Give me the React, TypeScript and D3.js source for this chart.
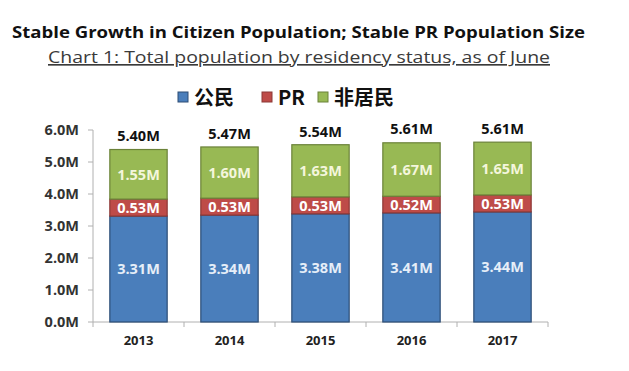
import * as d3 from 'd3';

const years = ['2013', '2014', '2015', '2016', '2017'];
const citizens = [3.31, 3.34, 3.38, 3.41, 3.44];
const prs = [0.53, 0.53, 0.53, 0.52, 0.53];
const nonResidents = [1.55, 1.6, 1.63, 1.67, 1.65];
const totals = [5.4, 5.47, 5.54, 5.61, 5.61];
const yTicks = [0, 1, 2, 3, 4, 5, 6];
const seriesNames = ['公民', 'PR', '非居民'];

const colors = ['#4a7ebb', '#be4b48', '#98b954'];
const strokes = ['#2c4d75', '#8c3836', '#6b8239'];
const labelColors = ['#e6eef8', '#ffffff', '#f4f6dc'];

const W = 629;
const H = 371;
const font = '"Open Sans", "Noto Sans", sans-serif';

const App = () => {
  const x = d3.scaleBand().domain(years).range([93, 548]).paddingInner(0.37).paddingOuter(0.185);
  const y = d3.scaleLinear().domain([0, 6]).range([322, 130]);

  const rows = years.map((yr, i) => ({ year: yr, c: citizens[i], p: prs[i], n: nonResidents[i] }));
  const stack = d3.stack<any>().keys(['c', 'p', 'n'])(rows);

  const legendX = [178, 262, 318];

  return (
    <svg width={W} height={H} style={{ position: 'absolute', left: 0, top: 0, background: '#fff' }} fontFamily={font}>
      <rect width={W} height={H} fill="#fff" />
      <text x={12} y={38} fontSize={16.5} fontWeight="bold" fill="#111" textLength={573} lengthAdjust="spacingAndGlyphs">
        Stable Growth in Citizen Population; Stable PR Population Size
      </text>
      <text x={48} y={63} fontSize={16.5} fill="#3a3a3a" textDecoration="underline" textLength={502} lengthAdjust="spacingAndGlyphs">
        Chart 1: Total population by residency status, as of June
      </text>

      {seriesNames.map((s, i) => (
        <g key={s}>
          <rect x={legendX[i]} y={92} width={10} height={10} fill={colors[i]} stroke={strokes[i]} />
          <text x={legendX[i] + 16} y={105} fontSize={20} fontWeight="bold" fill="#111"
            fontFamily={'"Noto Sans CJK SC", "Open Sans", sans-serif'}>{s}</text>
        </g>
      ))}

      {/* y axis */}
      <line x1={93} x2={93} y1={y(6)} y2={y(0)} stroke="#b0b0b0" />
      {yTicks.map(t => (
        <g key={t}>
          <line x1={88} x2={93} y1={y(t)} y2={y(t)} stroke="#b0b0b0" />
          <text x={79} y={y(t)} dy="0.35em" textAnchor="end" fontSize={14.5} fontWeight="bold" fill="#333">
            {t.toFixed(1)}M
          </text>
        </g>
      ))}

      {/* x axis */}
      <line x1={93} x2={548} y1={y(0)} y2={y(0)} stroke="#b0b0b0" />
      {years.map((yr, i) => {
        const x0 = 93 + i * x.step();
        return <line key={yr} x1={x0} x2={x0} y1={y(0)} y2={y(0) + 5} stroke="#b0b0b0" />;
      })}
      <line x1={548} x2={548} y1={y(0)} y2={y(0) + 5} stroke="#b0b0b0" />
      {years.map(yr => (
        <text key={yr} x={(x(yr) as number) + x.bandwidth() / 2} y={345} textAnchor="middle" fontSize={13} fontWeight="bold" fill="#222">
          {yr}
        </text>
      ))}

      {stack.map((layer, si) => (
        <g key={si}>
          {layer.map((d: any) => {
            const bx = x(d.data.year) as number;
            const top = y(d[1]);
            const bottom = y(d[0]);
            return (
              <g key={d.data.year}>
                <rect x={bx} y={top} width={x.bandwidth()} height={bottom - top} fill={colors[si]} stroke={strokes[si]} strokeWidth={1.2} />
                <text x={bx + x.bandwidth() / 2} y={(top + bottom) / 2} dy="0.36em" textAnchor="middle"
                  fontSize={14.5} fontWeight="bold" fill={labelColors[si]}>
                  {(d[1] - d[0]).toFixed(2)}M
                </text>
              </g>
            );
          })}
        </g>
      ))}

      {totals.map((t, i) => (
        <text key={i} x={(x(years[i]) as number) + x.bandwidth() / 2} y={y(t) - 8} textAnchor="middle" fontSize={14.5} fontWeight="bold" fill="#111">
          {t.toFixed(2)}M
        </text>
      ))}
    </svg>
  );
};

export default App;
